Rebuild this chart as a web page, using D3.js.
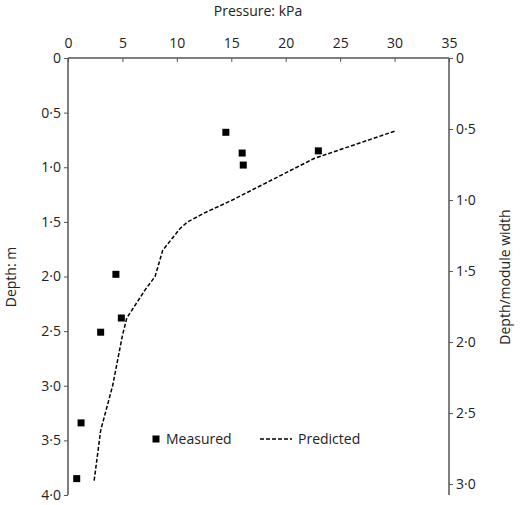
<!DOCTYPE html>
<html><head><meta charset="utf-8">
<script src="https://cdn.jsdelivr.net/npm/d3@7"></script>
<style>body{margin:0;background:#fff}text{font-family:"Open Sans",sans-serif;font-size:14px;fill:#222}</style>
</head><body><svg></svg>
<script>
const width = 520, height = 505;
const measuredP = [14.5, 16, 16.1, 23, 4.4, 4.9, 3.0, 1.2, 0.8];
const measuredD = [0.68, 0.87, 0.98, 0.85, 1.98, 2.38, 2.51, 3.34, 3.85];
const predictedP = [30, 22.6, 15.1, 12.5, 11, 10.3, 8.7, 8.0, 7.1, 5.4, 5.0, 4.1, 3.0, 2.4];
const predictedD = [0.67, 0.92, 1.3, 1.42, 1.5, 1.56, 1.76, 2.0, 2.12, 2.38, 2.54, 3.0, 3.41, 3.87];
const xTicks = [0, 5, 10, 15, 20, 25, 30, 35];
const leftTicks = [0, 0.5, 1, 1.5, 2, 2.5, 3, 3.5, 4];
const rightTicks = [0, 0.5, 1, 1.5, 2, 2.5, 3];
const moduleWidth = 1.3;

const mLeft = 68, mRight = 449, mTop = 58, mBottom = 495;
const svg = d3.select('svg').attr('width', width).attr('height', height);
const x = d3.scaleLinear().domain([0, 35]).range([mLeft, mRight]);
const y = d3.scaleLinear().domain([0, 4]).range([mTop, mBottom]);
const y2 = d3.scaleLinear().domain([0, 4 / moduleWidth]).range([mTop, mBottom]);
const fmt = d => d === 0 ? '0' : d3.format('.1f')(d).replace('.', '·');

const gx = svg.append('g').attr('transform', `translate(0,${mTop})`)
	.call(d3.axisTop(x).tickValues(xTicks).tickSize(-4).tickPadding(10).tickFormat(d => d));
const gl = svg.append('g').attr('transform', `translate(${mLeft},0)`)
	.call(d3.axisLeft(y).tickValues(leftTicks).tickSize(4).tickFormat(fmt));
const gr = svg.append('g').attr('transform', `translate(${mRight},0)`)
	.call(d3.axisRight(y2).tickValues(rightTicks).tickSize(4).tickFormat(fmt));
[gx, gl, gr].forEach(g => {
	g.select('.domain').attr('stroke', '#555').attr('stroke-width', 1.5);
	g.selectAll('.tick line').attr('stroke', '#555');
	g.selectAll('text').style('font-size', '14px').attr('fill', '#222');
});
gx.select('.domain').attr('d', `M${mLeft},0H${mRight}`);
gl.select('.domain').attr('d', `M0,${mTop}V${mBottom}`);
gr.select('.domain').attr('d', `M0,${mTop}V${mBottom}`);

svg.append('text').attr('x', 258).attr('y', 16).attr('text-anchor', 'middle').text('Pressure: kPa');
svg.append('text').attr('transform', 'translate(16,277) rotate(-90)').attr('text-anchor', 'middle').text('Depth: m');
svg.append('text').attr('transform', 'translate(510,277) rotate(-90)').attr('text-anchor', 'middle').text('Depth/module width');

const line = d3.line().x(i => x(predictedP[i])).y(i => y(predictedD[i]));
svg.append('path').attr('d', line(d3.range(predictedP.length)))
	.attr('fill', 'none').attr('stroke', '#000').attr('stroke-width', 1.5).attr('stroke-dasharray', '4,2');

svg.selectAll('rect.m').data(measuredP).enter().append('rect').attr('class', 'm')
	.attr('x', d => x(d) - 3.5).attr('y', (d, i) => y(measuredD[i]) - 3.5)
	.attr('width', 7).attr('height', 7).attr('fill', '#000');

const lg = svg.append('g').attr('transform', 'translate(156,439)');
lg.append('rect').attr('x', -3.5).attr('y', -3.5).attr('width', 7).attr('height', 7);
lg.append('text').attr('x', 10).attr('dy', '0.35em').text('Measured');
lg.append('line').attr('x1', 104).attr('x2', 136).attr('stroke', '#000').attr('stroke-width', 1.5).attr('stroke-dasharray', '4,2');
lg.append('text').attr('x', 142).attr('dy', '0.35em').text('Predicted');
</script></body></html>
